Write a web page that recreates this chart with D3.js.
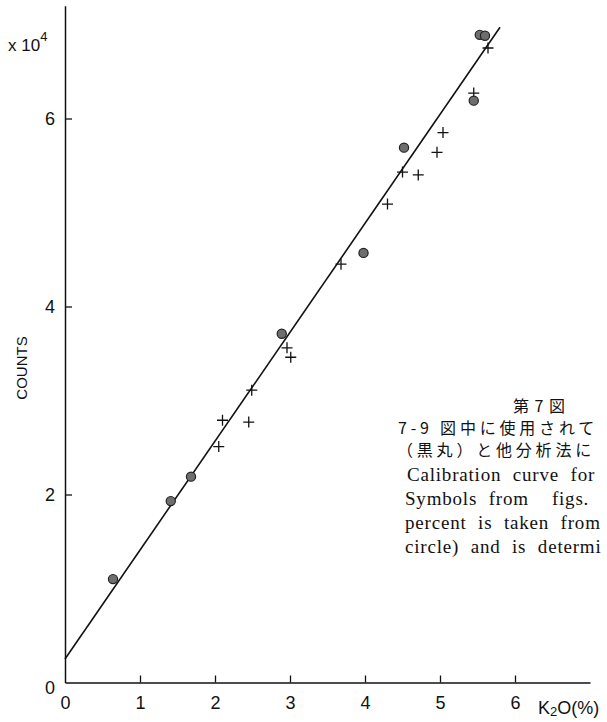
<!DOCTYPE html>
<html>
<head>
<meta charset="utf-8">
<script src="https://cdn.jsdelivr.net/npm/d3@7"></script>
<style>
  body { margin: 0; background: #fff; }
  svg { display: block; }
  .tick text { font-family: "Liberation Sans", Arial, sans-serif; font-size: 18px; fill: #111; }
  .cap-en { font-family: "Liberation Serif", "DejaVu Serif", serif; font-size: 19px; fill: #111; white-space: pre; letter-spacing: 0.8px; word-spacing: 6px; }
  .cap-jp { font-family: "Noto Sans CJK JP", sans-serif; font-size: 16px; fill: #111; white-space: pre; letter-spacing: 3.8px; }
</style>
</head>
<body>
<div id="chart"></div>
<script>
// Data: K2O (%) vs counts (x 10^4)
var circleK2O    = [0.64, 1.41, 1.68, 2.89, 3.98, 4.52, 5.45, 5.53, 5.60];
var circleCounts = [1.10, 1.93, 2.19, 3.71, 4.57, 5.69, 6.19, 6.89, 6.88];

var crossK2O    = [2.05, 2.10, 2.45, 2.49, 2.96, 3.01, 3.68, 4.30, 4.50, 4.71, 4.96, 5.04, 5.45, 5.64];
var crossCounts = [2.51, 2.79, 2.77, 3.11, 3.56, 3.46, 4.45, 5.09, 5.43, 5.40, 5.64, 5.85, 6.27, 6.75];

// calibration line end points
var lineK2O    = [0, 5.80];
var lineCounts = [0.25, 6.97];

var xTicks = [0, 1, 2, 3, 4, 5, 6];
var yTicks = [0, 2, 4, 6];

// caption, as far as it shows before the page edge
var captionJp = ["第 7 図", "7-9 図中に使用されて", "（黒丸）と他分析法に"];
var captionEn = ["Calibration curve for", "Symbols from  figs.", "percent is taken from", "circle) and is determi"];

var svgWidth = 607;
var svgHeight = 722;

var svg = d3.select("#chart")
  .append("svg")
    .attr("width", svgWidth)
    .attr("height", svgHeight);

// scales
var xScale = d3.scaleLinear().domain([0, 7]).range([65, 590]);
var yScale = d3.scaleLinear().domain([0, 7.2]).range([682.5, 5.7]);

// x axis, ticks pointing up
var xAxis = d3.axisBottom(xScale)
  .tickValues(xTicks)
  .tickSizeInner(-7)
  .tickSizeOuter(0)
  .tickPadding(14)
  .tickFormat(d3.format("d"));

var gx = svg.append("g")
  .attr("transform", `translate(0, ${yScale(0)})`)
  .call(xAxis);
gx.select(".domain").attr("stroke", "#111").attr("stroke-width", 1.5);
gx.selectAll(".tick line").attr("stroke", "#111").attr("stroke-width", 1.3);
gx.selectAll(".tick").filter(d => d === 0).select("line").remove();

// y axis, ticks pointing right
var yAxis = d3.axisLeft(yScale)
  .tickValues(yTicks)
  .tickSizeInner(-7)
  .tickSizeOuter(0)
  .tickPadding(10)
  .tickFormat(d3.format("d"));

var gy = svg.append("g")
  .attr("transform", `translate(${xScale(0)}, 0)`)
  .call(yAxis);
gy.select(".domain").attr("stroke", "#111").attr("stroke-width", 1.5);
gy.selectAll(".tick line").attr("stroke", "#111").attr("stroke-width", 1.3);
gy.selectAll(".tick").filter(d => d === 0).select("line").remove();
gy.selectAll(".tick").filter(d => d === 0).select("text").attr("dy", "0.6em");

// x10^4 label
var expLabel = svg.append("text")
  .attr("x", 8)
  .attr("y", 51)
  .style("font-family", "Liberation Sans, Arial, sans-serif")
  .style("font-size", "17px")
  .attr("fill", "#111");
expLabel.append("tspan").text("x 10");
expLabel.append("tspan").attr("dy", -10).style("font-size", "13px").text("4");

// y axis title
svg.append("text")
  .attr("transform", "translate(27, 368) rotate(-90)")
  .attr("text-anchor", "middle")
  .style("font-family", "Liberation Sans, Arial, sans-serif")
  .style("font-size", "15px")
  .attr("fill", "#111")
  .text("COUNTS");

// x axis title K2O(%)
var xTitle = svg.append("text")
  .attr("x", 538)
  .attr("y", yScale(0) + 31)
  .style("font-family", "Liberation Sans, Arial, sans-serif")
  .style("font-size", "18px")
  .attr("fill", "#111");
xTitle.append("tspan").text("K");
xTitle.append("tspan").attr("dy", 2).style("font-size", "13px").text("2");
xTitle.append("tspan").attr("dy", -2).text("O(%)");

// calibration line
var lineData = lineK2O.map((k, i) => [k, lineCounts[i]]);
svg.append("path")
  .datum(lineData)
  .attr("d", d3.line().x(d => xScale(d[0])).y(d => yScale(d[1])))
  .attr("fill", "none")
  .attr("stroke", "#111")
  .attr("stroke-width", 1.6);

// crosses
var crossData = crossK2O.map((k, i) => [k, crossCounts[i]]);
svg.selectAll("path.cross")
  .data(crossData)
  .enter()
  .append("path")
  .attr("class", "cross")
  .attr("d", d => {
    var cx = xScale(d[0]), cy = yScale(d[1]), s = 5.5;
    return `M${cx - s},${cy}H${cx + s}M${cx},${cy - s}V${cy + s}`;
  })
  .attr("stroke", "#111")
  .attr("stroke-width", 1.3)
  .attr("fill", "none");

// circles (black dots)
var circleData = circleK2O.map((k, i) => [k, circleCounts[i]]);
svg.selectAll("circle.dot")
  .data(circleData)
  .enter()
  .append("circle")
  .attr("class", "dot")
  .attr("cx", d => xScale(d[0]))
  .attr("cy", d => yScale(d[1]))
  .attr("r", 4.6)
  .attr("fill", "#6e6e6e")
  .attr("stroke", "#222")
  .attr("stroke-width", 1.2);

// caption on the right
var jpX = [513, 398, 397];
var jpY = [412, 434, 456];
svg.selectAll("text.cap-jp")
  .data(captionJp)
  .enter()
  .append("text")
  .attr("class", "cap-jp")
  .attr("x", (d, i) => jpX[i])
  .attr("y", (d, i) => jpY[i])
  .style("letter-spacing", (d, i) => i === 0 ? "1px" : null)
  .text(d => d);

var enY = [481, 505, 529, 553];
svg.selectAll("text.cap-en")
  .data(captionEn)
  .enter()
  .append("text")
  .attr("class", "cap-en")
  .attr("x", (d, i) => i === 0 ? 407 : 405)
  .attr("y", (d, i) => enY[i])
  .text(d => d);
</script>
</body>
</html>
